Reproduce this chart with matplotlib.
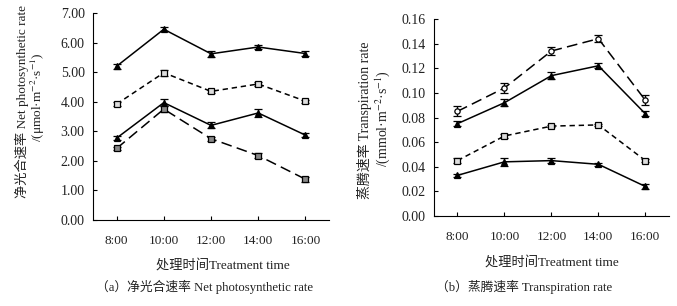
import numpy as np
import matplotlib.pyplot as plt

plt.rcParams['font.family'] = ['Liberation Serif', 'Noto Sans CJK SC']
plt.rcParams['mathtext.fontset'] = 'stix'
plt.rcParams['axes.unicode_minus'] = False

times = ['8:00', '10:00', '12:00', '14:00', '16:00']

# (a) net photosynthetic rate
pn_1 = [5.20, 6.45, 5.62, 5.85, 5.63]
pn_1_err = [0.08, 0.07, 0.10, 0.08, 0.08]
pn_2 = [3.92, 4.98, 4.35, 4.60, 4.02]
pn_2_err = [0.07, 0.10, 0.05, 0.07, 0.05]
pn_3 = [2.77, 3.97, 3.20, 3.62, 2.87]
pn_3_err = [0.07, 0.12, 0.10, 0.12, 0.07]
pn_4 = [2.42, 3.75, 2.75, 2.18, 1.38]
pn_4_err = [0.06, 0.10, 0.07, 0.08, 0.08]

# (b) transpiration rate
tr_1 = [0.085, 0.104, 0.134, 0.144, 0.094]
tr_1_err = [0.004, 0.004, 0.003, 0.003, 0.004]
tr_2 = [0.075, 0.092, 0.114, 0.122, 0.083]
tr_2_err = [0.002, 0.003, 0.003, 0.002, 0.002]
tr_3 = [0.045, 0.065, 0.073, 0.074, 0.045]
tr_3_err = [0.002, 0.002, 0.001, 0.001, 0.001]
tr_4 = [0.033, 0.044, 0.045, 0.042, 0.024]
tr_4_err = [0.001, 0.003, 0.002, 0.001, 0.002]

solid = '-'
short = (0, (3.5, 2.5))
long_ = (0, (7, 3.5))

x = np.arange(1, len(times) + 1)

fig = plt.figure(figsize=(6.77, 3.06), dpi=100)
ax1 = fig.add_axes([0.1374, 0.281, 0.3486, 0.6765])
ax2 = fig.add_axes([0.641, 0.294, 0.347, 0.644])


def series(ax, y, err, ls, marker, mfc):
    ax.errorbar(x, y, yerr=err, color='black', ls=ls, lw=1.1,
                marker=marker, ms=3.8, mfc=mfc, mec='black', mew=0.9,
                ecolor='black', elinewidth=1.0, capsize=3.0, capthick=1.2)


series(ax1, pn_1, pn_1_err, solid, '^', 'black')
series(ax1, pn_2, pn_2_err, short, 's', '#dddddd')
series(ax1, pn_3, pn_3_err, solid, '^', 'black')
series(ax1, pn_4, pn_4_err, long_, 's', '#888888')

series(ax2, tr_1, tr_1_err, long_, 'o', 'white')
series(ax2, tr_2, tr_2_err, solid, '^', 'black')
series(ax2, tr_3, tr_3_err, short, 's', '#dddddd')
series(ax2, tr_4, tr_4_err, solid, '^', 'black')

ax1.set_ylim(0, 7)
ax1.set_yticks(np.arange(0, 7.01, 1))
ax1.set_yticklabels([f'{v:.2f}' for v in np.arange(0, 7.01, 1)])
ax2.set_ylim(0, 0.16)
ax2.set_yticks(np.arange(0, 0.161, 0.02))
ax2.set_yticklabels([f'{v:.2f}' for v in np.arange(0, 0.161, 0.02)])

for ax in (ax1, ax2):
    ax.set_xlim(0.5, 5.5)
    ax.set_xticks(x)
    ax.set_xticklabels(times)
    ax.spines['top'].set_visible(False)
    ax.spines['right'].set_visible(False)
    ax.spines['left'].set_linewidth(0.8)
    ax.spines['bottom'].set_linewidth(0.8)
    ax.tick_params(direction='in', length=3, width=0.8, labelsize=9.5,
                   labelcolor='#222222')
    ax.tick_params(axis='x', pad=11)
    ax.tick_params(axis='y', pad=6, labelsize=10)

fig.text(0.033, 0.667, '净光合速率 Net photosynthetic rate', rotation=90,
         ha='center', va='center', fontsize=9.5, color='#222222')
fig.text(0.056, 0.683, '/(μmol·m$^{-2}$·s$^{-1}$)', rotation=90,
         ha='center', va='center', fontsize=9.5, color='#222222')
fig.text(0.538, 0.608, '蒸腾速率 Transpiration rate', rotation=90,
         ha='center', va='center', fontsize=10, color='#222222')
fig.text(0.565, 0.614, '/(mmol·m$^{-2}$·s$^{-1}$)', rotation=90,
         ha='center', va='center', fontsize=10, color='#222222')

fig.text(0.329, 0.134, '处理时间Treatment time', ha='center', va='center',
         fontsize=9.5, color='#222222')
fig.text(0.815, 0.144, '处理时间Treatment time', ha='center', va='center',
         fontsize=9.5, color='#222222')
fig.text(0.302, 0.062, '（a）净光合速率 Net photosynthetic rate', ha='center',
         va='center', fontsize=9.2, color='#222222')
fig.text(0.774, 0.062, '（b）蒸腾速率 Transpiration rate', ha='center',
         va='center', fontsize=9.2, color='#222222')

fig.savefig('out.png', dpi=100)
